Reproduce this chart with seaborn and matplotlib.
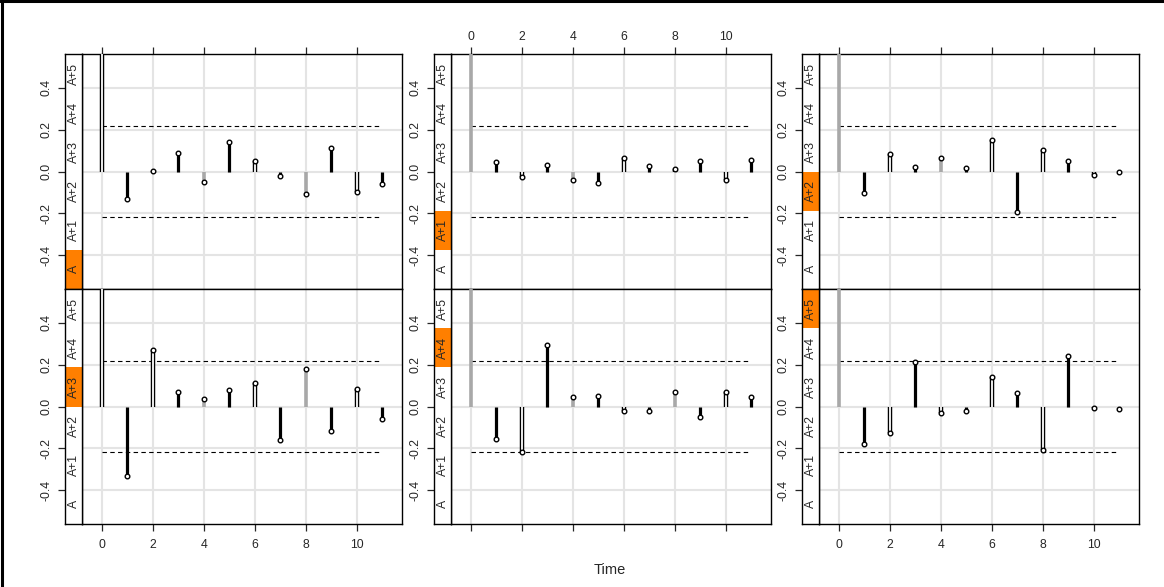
import numpy as np
import pandas as pd
import matplotlib
matplotlib.use("Agg")
import matplotlib.pyplot as plt
from matplotlib.patches import Rectangle
from matplotlib.lines import Line2D
import seaborn as sns

# ---- data -------------------------------------------------------------
lags = list(range(12))
levels = ["A", "A+1", "A+2", "A+3", "A+4", "A+5"]

acf_A  = [1.0, -0.130, 0.003, 0.090, -0.049, 0.140, 0.048, -0.022, -0.106, 0.111, -0.098, -0.059]
acf_A1 = [1.0, 0.046, -0.024, 0.029, -0.041, -0.054, 0.064, 0.025, 0.013, 0.048, -0.040, 0.056]
acf_A2 = [1.0, -0.103, 0.084, 0.021, 0.065, 0.016, 0.149, -0.192, 0.105, 0.052, -0.017, -0.002]
acf_A3 = [1.0, -0.333, 0.270, 0.068, 0.037, 0.078, 0.113, -0.160, 0.181, -0.117, 0.083, -0.059]
acf_A4 = [1.0, -0.154, -0.217, 0.292, 0.046, 0.052, -0.021, -0.021, 0.068, -0.052, 0.068, 0.046]
acf_A5 = [1.0, -0.179, -0.127, 0.213, -0.029, -0.021, 0.140, 0.063, -0.206, 0.240, -0.008, -0.010]

# stem group per lag: b = solid, w = hollow, g = grey
grp_A  = ["w", "b", "w", "b", "g", "b", "w", "b", "g", "b", "w", "b"]
grp_A1 = ["g", "b", "w", "b", "g", "b", "w", "b", "w", "b", "w", "b"]
grp_A2 = ["g", "b", "w", "b", "g", "b", "w", "b", "w", "b", "w", "b"]
grp_A3 = ["w", "b", "w", "b", "g", "b", "w", "b", "g", "b", "w", "b"]
grp_A4 = ["g", "b", "w", "b", "g", "b", "w", "b", "g", "b", "w", "b"]
grp_A5 = ["g", "b", "w", "b", "w", "b", "w", "b", "w", "b", "w", "b"]

conf_bound = 0.219
x_ticks = [0, 2, 4, 6, 8, 10]
y_ticks = [-0.4, -0.2, 0.0, 0.2, 0.4]

panels = [
    (acf_A, grp_A, 0), (acf_A1, grp_A1, 1), (acf_A2, grp_A2, 2),
    (acf_A3, grp_A3, 3), (acf_A4, grp_A4, 4), (acf_A5, grp_A5, 5),
]

# ---- style ------------------------------------------------------------
sns.set_style("white")
plt.rcParams["font.family"] = ["Liberation Sans", "DejaVu Sans"]
plt.rcParams["axes.unicode_minus"] = False

W, H = 1164, 587
fig = plt.figure(figsize=(W / 100, H / 100), dpi=100)

YLIM = (-0.562, 0.562)
XLIM = (-0.77, 11.77)
STRIP_ORANGE = "#FF7F00"
GRID = "#e4e4e4"
TICK_FS = 8.8


def add_px_axes(left, top, right, bottom):
    return fig.add_axes([left / W, 1 - bottom / H, (right - left) / W, (bottom - top) / H])


col_px = [(65, 82, 402), (434, 451, 771), (802, 819, 1139)]
row_px = [(54, 289), (289, 524)]

for idx, (vals, grp, lev) in enumerate(panels):
    row, col = divmod(idx, 3)
    s_left, p_left, p_right = col_px[col]
    top, bottom = row_px[row]

    ax = add_px_axes(p_left, top, p_right, bottom)
    sx = add_px_axes(s_left, top, p_left, bottom)

    # main panel
    ax.set_xlim(*XLIM)
    ax.set_ylim(*YLIM)
    ax.set_xticks(x_ticks)
    ax.set_yticks(y_ticks)
    ax.grid(True, color=GRID, lw=1.5)
    ax.set_axisbelow(True)
    for sp in ax.spines.values():
        sp.set_linewidth(1.0)
        sp.set_color("black")
    ax.tick_params(axis="y", left=False, right=False, labelleft=False)
    if row == 0:
        ax.tick_params(axis="x", top=True, bottom=False, labeltop=(col == 1),
                       labelbottom=False, direction="out", length=5, width=0.9,
                       labelsize=TICK_FS, pad=3)
    else:
        ax.tick_params(axis="x", top=False, bottom=True, labeltop=False,
                       labelbottom=(col != 1), direction="out", length=5, width=0.9,
                       labelsize=TICK_FS, pad=6)

    df = pd.DataFrame({"lag": lags, "acf": vals, "grp": grp})
    for g, sub in df.groupby("grp"):
        if g == "b":
            ax.vlines(sub["lag"], 0, sub["acf"], color="black", lw=2.3, zorder=3)
        elif g == "w":
            ax.vlines(sub["lag"], 0, sub["acf"], color="black", lw=3.2, zorder=3)
            ax.vlines(sub["lag"], 0, sub["acf"], color="white", lw=1.3, zorder=3)
        else:
            ax.vlines(sub["lag"], 0, sub["acf"], color="#a8a8a8", lw=2.6, zorder=3)

    sns.scatterplot(data=df[df["lag"] > 0], x="lag", y="acf", ax=ax, marker="o",
                    s=11, color="white", edgecolor="black", linewidth=1.0,
                    legend=False, zorder=4)

    for c in (conf_bound, -conf_bound):
        bound = pd.DataFrame({"lag": [0, 11], "acf": [c, c]})
        sns.lineplot(data=bound, x="lag", y="acf", ax=ax, color="black", lw=0.8,
                     linestyle=(0, (4, 3)), zorder=2)
    ax.set_xlabel("")
    ax.set_ylabel("")

    # strip on the left
    sx.set_xlim(0, 1)
    sx.set_ylim(*YLIM)
    band = (YLIM[1] - YLIM[0]) / len(levels)
    lo = YLIM[0] + lev * band
    sx.add_patch(Rectangle((0, lo), 1, band, facecolor=STRIP_ORANGE, edgecolor="none"))
    for i, name in enumerate(levels):
        sx.text(0.5, YLIM[0] + (i + 0.5) * band, name, rotation=90,
                ha="center", va="center", fontsize=TICK_FS)
    sx.set_xticks([])
    sx.set_yticks(y_ticks)
    sx.set_yticklabels([f"{v:.1f}" for v in y_ticks], rotation=90, va="center")
    sx.tick_params(axis="y", left=True, direction="out", length=5, width=0.9,
                   labelsize=TICK_FS, pad=4)
    for sp in sx.spines.values():
        sp.set_linewidth(1.0)
        sp.set_color("black")

fig.text(610 / W, 1 - 570 / H, "Time", ha="center", va="center", fontsize=10.5)

# outer frame (left and top edges)
fig.add_artist(Line2D([2 / W, 2 / W], [0, 1], color="black", lw=2.2, transform=fig.transFigure))
fig.add_artist(Line2D([0, 1], [1 - 1 / H, 1 - 1 / H], color="black", lw=2.2, transform=fig.transFigure))

fig.savefig("out.png", dpi=100)
